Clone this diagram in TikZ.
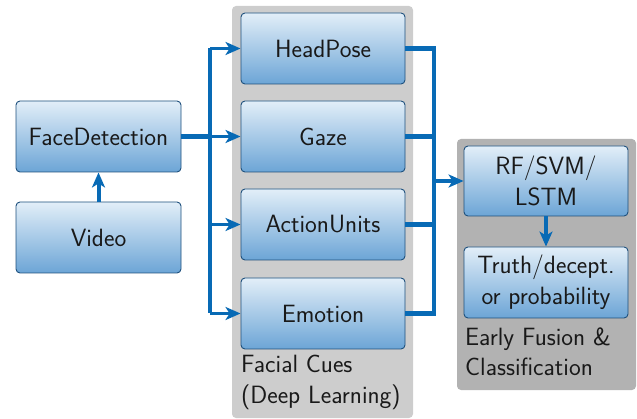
\documentclass[tikz,border=0pt]{standalone}
\usepackage{fontspec}
\usetikzlibrary{arrows.meta}
\definecolor{flowblue}{RGB}{8,106,181}
\definecolor{boxtop}{RGB}{226,238,248}
\definecolor{boxbot}{RGB}{108,165,214}
\definecolor{boxedge}{RGB}{30,80,125}
\definecolor{panelA}{RGB}{205,205,205}
\definecolor{panelB}{RGB}{178,178,178}
\definecolor{inktext}{RGB}{25,25,25}
\begin{document}
\begin{tikzpicture}[x=1pt,y=-1pt,
  font=\sffamily\fontsize{25}{31}\selectfont,
  stagebox/.style={draw=boxedge, line width=0.9pt, rounded corners=4pt,
    top color=boxtop, bottom color=boxbot, text=inktext,
    minimum width=164pt, minimum height=71pt, inner sep=0pt, align=center},
  panel/.style={rounded corners=4pt, draw=none},
  flow/.style={draw=flowblue, line width=4.5pt, line join=miter},
  flowarrow/.style={flow, -{Stealth[length=15pt,width=13pt,inset=4pt]}},
  caption/.style={anchor=base west, align=left, text=inktext, inner sep=0pt}]
  \useasboundingbox (0,0) rectangle (637,419);

  % background panels
  \fill[panelA, panel] (232,6) rectangle (413,418);
  \fill[panelB, panel] (457,139) rectangle (636,390);

  % boxes
  \node[stagebox, minimum width=165pt] (face) at (98.5,136.5) {FaceDetection};
  \node[stagebox, minimum width=165pt] (video) at (98.5,237.5) {Video};
  \node[stagebox] (head) at (323,48.5) {HeadPose};
  \node[stagebox] (gaze) at (323,136.5) {Gaze};
  \node[stagebox] (au) at (323,224.5) {ActionUnits};
  \node[stagebox] (emo) at (323,313.5) {Emotion};
  \node[stagebox, minimum height=70pt] (clf) at (546,181) {RF/SVM/\\LSTM};
  \node[stagebox] (out) at (546,282.5) {Truth/decept.\\or probability};

  % panel captions (anchored at the baseline of the last line)
  \node[caption] (capA) at (241,403) {Facial Cues\\(Deep Learning)};
  \node[caption] (capB) at (465,376) {Early Fusion \&\\Classification};

  % bus lines
  \coordinate (lb) at (210,0);
  \coordinate (rb) at (434,0);

  \draw[flowarrow, line width=4pt] (video.north) -- (face.south);

  \draw[flow] (face.east) -- (lb |- face.east);
  \draw[flow, line width=4pt] (lb |- head.west) -- (lb |- emo.west);
  \foreach \n in {head,gaze,au,emo}
    \draw[flowarrow, line width=3.5pt] (lb |- \n.west) -- (\n.west);

  \draw[flow] (head.east) -- (rb |- head.east) -- (rb |- emo.east) -- (emo.east);
  \draw[flow] (gaze.east) -- (rb |- gaze.east);
  \draw[flow] (au.east) -- (rb |- au.east);
  \draw[flowarrow, line width=3.5pt] (rb |- clf.west) -- (clf.west);
  \draw[flowarrow, line width=4pt] (clf.south) -- (out.north);
\end{tikzpicture}
\end{document}
